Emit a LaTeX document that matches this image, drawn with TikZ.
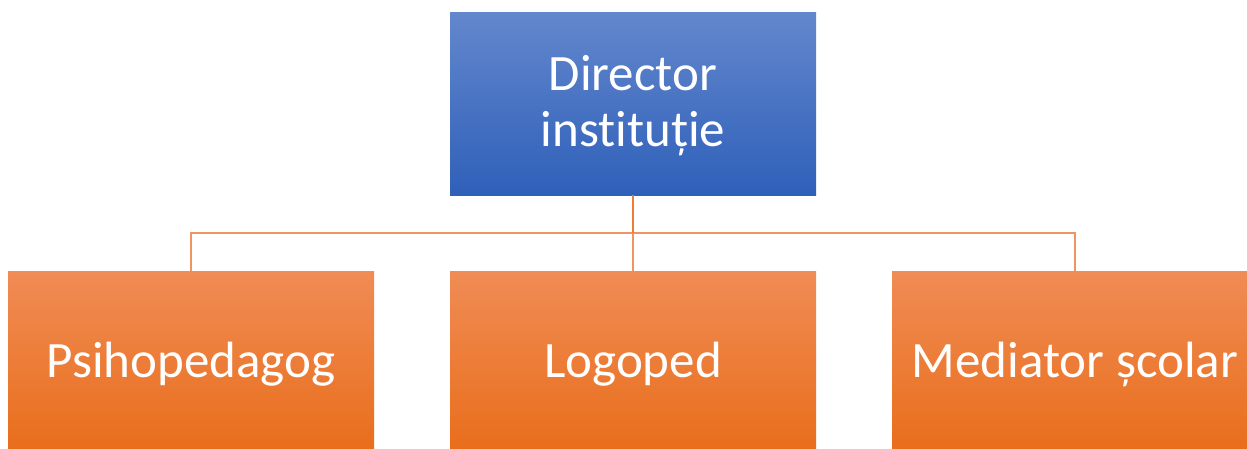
\documentclass[tikz,border=0pt]{standalone}
\usepackage{fontspec}
\setmainfont{Carlito}[RawFeature={-liga;-clig;-dlig;-calt}]
\definecolor{bluetop}{RGB}{99,135,205}
\definecolor{bluemid}{RGB}{67,114,200}
\definecolor{bluebot}{RGB}{47,96,185}
\definecolor{orgtop}{RGB}{240,140,85}
\definecolor{orgmid}{RGB}{243,127,46}
\definecolor{orgbot}{RGB}{233,110,28}
\definecolor{linkline}{RGB}{239,148,98}
\definecolor{linkdark}{RGB}{236,125,50}
\tikzset{
  headbox/.style={rectangle, inner sep=0pt, minimum width=366pt, minimum height=183pt,
    top color=bluetop, middle color=bluemid, bottom color=bluebot},
  staffbox/.style={rectangle, inner sep=0pt, minimum width=366pt, minimum height=177pt,
    top color=orgtop, middle color=orgmid, bottom color=orgbot},
  boxtext/.style={inner sep=0pt, text=white, align=center,
    font=\fontsize{51}{56}\selectfont},
  link/.style={draw=linkline, line width=1.4pt},
}
\begin{document}
\begin{tikzpicture}[x=1pt,y=-1pt]
  \clip (0,0) rectangle (1247,448);
  \fill[white] (0,0) rectangle (1247,448);

  % boxes
  \node[headbox] (dir) at (633,103.5) {};
  \node[staffbox] (psi) at (191,359.5) {};
  \node[staffbox] (log) at (633,359.5) {};
  \node[staffbox] (med) at (1075,359.5) {};

  % captions
  \node[boxtext] (dir-t) at ([yshift=-2pt]dir.center) {Director\\instituție};
  \node[boxtext] (psi-t) at ([yshift=-4.5pt]psi.center) {Psihopedagog};
  \node[boxtext] (log-t) at ([yshift=-4.5pt]log.center) {Logoped};
  \node[boxtext] (med-t) at ([yshift=-4.5pt]med.center) {Mediator școlar};

  % connectors
  \coordinate (bus) at (633,233);
  \draw[link] (psi.north) |- (bus) -| (med.north);
  \draw[link] (bus) -- (log.north);
  \draw[link, draw=linkdark] (dir.south) -- (bus);
\end{tikzpicture}
\end{document}
